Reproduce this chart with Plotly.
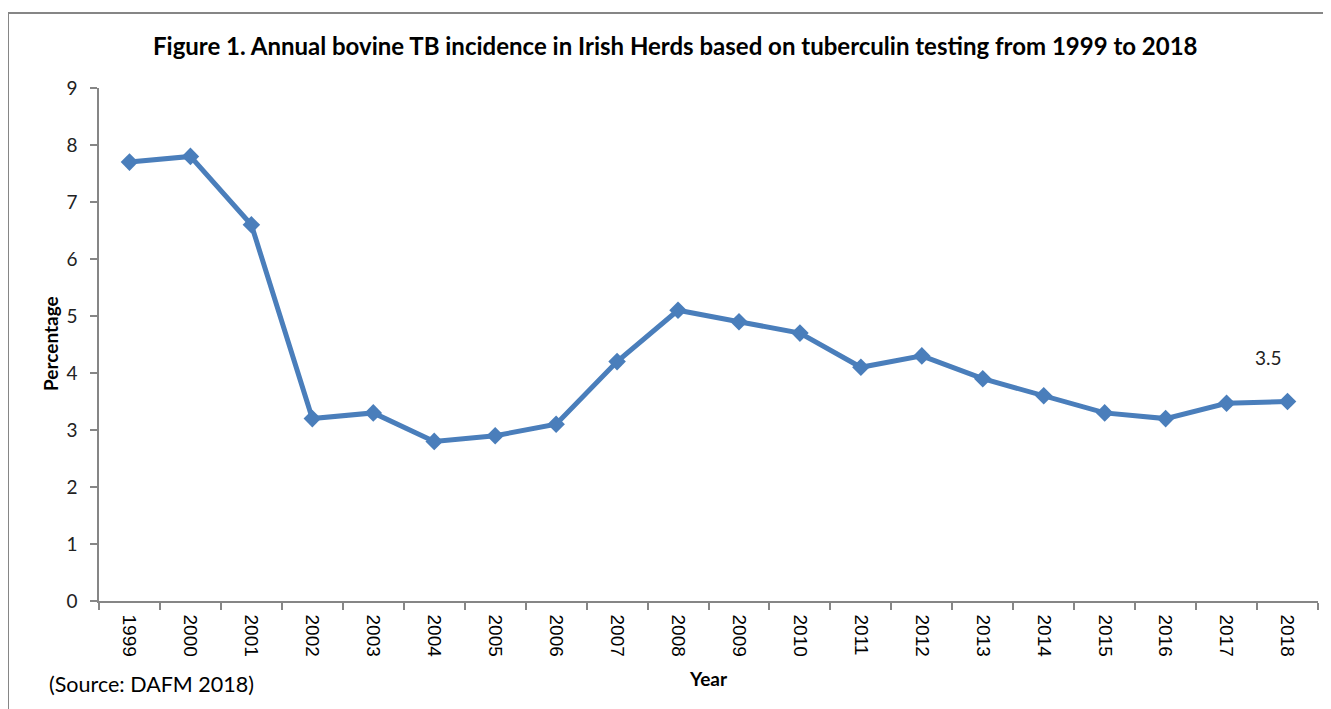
import plotly.graph_objects as go

years = [str(y) for y in range(1999, 2019)]
incidence = [7.7, 7.8, 6.6, 3.2, 3.3, 2.8, 2.9, 3.1, 4.2, 5.1, 4.9, 4.7, 4.1, 4.3, 3.9, 3.6, 3.3, 3.2, 3.47, 3.5]
y_ticks = list(range(0, 10))

title_text = "Figure 1. Annual bovine TB incidence in Irish Herds based on tuberculin testing from 1999 to 2018"
source_text = "(Source: DAFM 2018)"
x_title = "Year"
y_title = "Percentage"

# page body has an 8px margin; work in screen pixels and convert
OFF = 8
SW, SH = 1331, 709
W, H = SW - OFF, SH - OFF
PX0, PX1, PY0, PY1 = 99, 1318, 88, 601   # plot area in screen pixels
L, T = PX0 - OFF, PY0 - OFF
R, B = W - (PX1 - OFF), H - (PY1 - OFF)
pw, ph = PX1 - PX0, PY1 - PY0

def px_x(sx):
    return (sx - PX0) / pw

def px_y(sy):
    return (PY1 - sy) / ph

blue = "#4A7EBB"
gray = "#868686"
FONT = "Lato, Calibri, sans-serif"

fig = go.Figure()
fig.add_trace(go.Scatter(
    x=years, y=incidence, mode="lines+markers",
    line=dict(color=blue, width=5),
    marker=dict(symbol="diamond", size=13.5, color=blue),
    hoverinfo="x+y", showlegend=False,
))

last = len(years) - 1
fig.add_annotation(
    x=last, y=incidence[last], text=f"{incidence[last]}",
    showarrow=False, yshift=44, xshift=-19,
    font=dict(family=FONT, size=19, color="#222"),
)

fig.add_annotation(
    xref="paper", yref="paper", x=px_x(675), y=px_y(46),
    text=f"<b>{title_text}</b>", showarrow=False,
    xanchor="center", yanchor="middle",
    font=dict(family=FONT, size=24, color="#000"),
)

fig.add_annotation(
    xref="paper", yref="paper", x=px_x(47), y=px_y(684),
    text=source_text, showarrow=False,
    xanchor="left", yanchor="middle",
    font=dict(family=FONT, size=21.5, color="#000"),
)

fig.add_annotation(
    xref="paper", yref="paper", x=px_x(708), y=px_y(678),
    text=f"<b>{x_title}</b>", showarrow=False,
    xanchor="center", yanchor="middle",
    font=dict(family=FONT, size=19, color="#000"),
)

fig.add_annotation(
    xref="paper", yref="paper", x=px_x(50), y=px_y(344),
    text=f"<b>{y_title}</b>", showarrow=False, textangle=-90,
    xanchor="center", yanchor="middle",
    font=dict(family=FONT, size=19, color="#000"),
)

fig.add_shape(
    type="rect", xref="paper", yref="paper",
    x0=px_x(8), y0=px_y(760), x1=px_x(1380), y1=px_y(13),
    line=dict(color=gray, width=2), layer="below",
)

fig.update_layout(
    width=W, height=H,
    margin=dict(l=L, r=R, t=T, b=B, pad=0),
    paper_bgcolor="white", plot_bgcolor="white",
    font=dict(family=FONT, color="#000"),
)

fig.update_xaxes(
    type="category", range=[-0.5, len(years) - 0.5],
    tickangle=90, tickson="boundaries",
    ticks="outside", ticklen=7, tickcolor=gray, tickwidth=1.5,
    showline=True, linecolor=gray, linewidth=1.5,
    showgrid=False, zeroline=False, ticklabelstandoff=8,
    tickfont=dict(family="Liberation Sans, Arial, sans-serif", size=19, color="#000"),
)

fig.update_yaxes(
    range=[0, 9], tickvals=y_ticks,
    ticks="outside", ticklen=7, tickcolor=gray, tickwidth=1.5,
    showline=True, linecolor=gray, linewidth=1.5,
    showgrid=False, zeroline=False, ticklabelstandoff=9,
    tickfont=dict(family=FONT, size=19, color="#222"),
)

fig.write_html("out.html")
